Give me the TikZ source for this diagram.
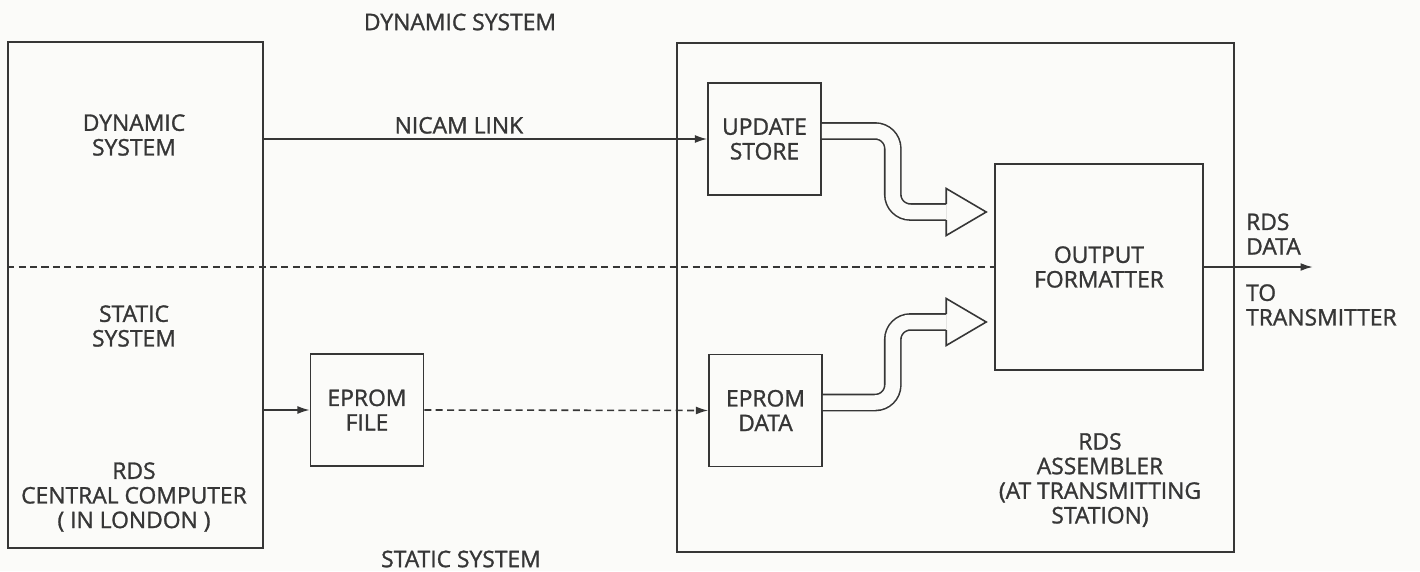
\documentclass[tikz,border=0pt]{standalone}
\usepackage{fontspec}
\setmainfont{Open Sans}
\newfontfamily\capsfont{Open Sans}[FakeBold=1.2]
\usetikzlibrary{arrows.meta,positioning}
\definecolor{ink}{HTML}{363636}
\definecolor{paper}{HTML}{FBFBF9}

\begin{document}
\begin{tikzpicture}[
  color=ink,
  lbl/.style={font=\capsfont\fontsize{13}{14}\selectfont, align=center, inner sep=0pt},
  frame/.style={rectangle, draw, line width=0.9pt, inner sep=0pt},
  blk/.style={
    rectangle, draw, line width=0.9pt, lbl,
    minimum width=2.26cm, minimum height=2.24cm
  },
  arr/.style={-{Latex[length=7pt,width=4.5pt]}, line width=0.9pt},
  arrd/.style={arr, dash pattern=on 4pt off 2.5pt},
  divider/.style={line width=0.9pt, dash pattern=on 4pt off 2.5pt},
  fat/.style={line width=0.9pt, double=paper, double distance=2.9mm, rounded corners=3.5mm},
  fathead/.style={line width=0.9pt, line join=miter}
]
\fill[paper] (0,0) rectangle (28.4,11.42);
\useasboundingbox (0,0) rectangle (28.4,11.42);

% outer units
\node[frame, minimum width=5.1cm, minimum height=10.12cm] (central) at (2.71,5.52) {};
\node[frame, minimum width=11.14cm, minimum height=10.18cm] (asm) at (19.11,5.47) {};

% blocks
\node[blk] (efile) at (7.34,3.22) {EPROM\\FILE};
\node[blk] (upd)   at (15.29,8.64) {UPDATE\\STORE};
\node[blk] (edata) at (15.31,3.21) {EPROM\\DATA};
\node[blk, minimum width=4.16cm, minimum height=4.12cm] (fmt) at (21.98,6.08) {OUTPUT\\FORMATTER};

% texts
\node[lbl] (dyntitle)  at (9.2,10.98) {DYNAMIC SYSTEM};
\node[lbl] (stattitle) at (9.22,0.24) {STATIC SYSTEM};
\node[lbl] (dynlbl)  at (2.68,8.72) {DYNAMIC\\SYSTEM};
\node[lbl] (statlbl) at (2.68,4.9)  {STATIC\\SYSTEM};
\node[lbl] (ccname)  at (2.68,1.48) {RDS\\CENTRAL COMPUTER\\( IN LONDON )};
\node[lbl] (asmname) at (22.0,1.82) {RDS\\ASSEMBLER\\(AT TRANSMITTING\\STATION)};
\node[lbl, anchor=west, align=left] (rdsdata) at ([shift={(0.84,0.66)}]fmt.east) {RDS\\DATA};
\node[lbl, anchor=west, align=left] (totx) at ([shift={(0.84,-0.76)}]fmt.east) {TO\\TRANSMITTER};

% links
\draw[arr] (central.east |- upd.west) -- node[lbl, above=0.9mm, pos=0.44] (nicam) {NICAM LINK} (upd.west);
\draw[arr] (central.east |- efile.west) -- (efile.west);
\draw[arrd] (efile.east) -- (edata.west);
\draw[divider] (central.west |- fmt.west) -- (fmt.west);
\coordinate (out) at ([xshift=21.8mm]fmt.east);
\draw[arr] (fmt.east) -- (out);

% broad arrows into the formatter
\coordinate (tipA) at ([shift={(-1.6mm,11mm)}]fmt.west);
\coordinate (tipB) at ([shift={(-1.6mm,-11mm)}]fmt.west);
\draw[fat] ([yshift=1.6mm]upd.east) -- ++(1.42,0) |- ([xshift=-8mm]tipA);
\draw[fat] ([yshift=1.6mm]edata.east) -- ++(1.40,0) |- ([xshift=-8mm]tipB);
\foreach \t in {tipA,tipB}
  \draw[fathead] ([shift={(-8mm,1.6mm)}]\t) -- ++(0,3.1mm) -- (\t)
    -- ([shift={(-8mm,-4.7mm)}]\t) -- ++(0,3.1mm);
\end{tikzpicture}
\end{document}
